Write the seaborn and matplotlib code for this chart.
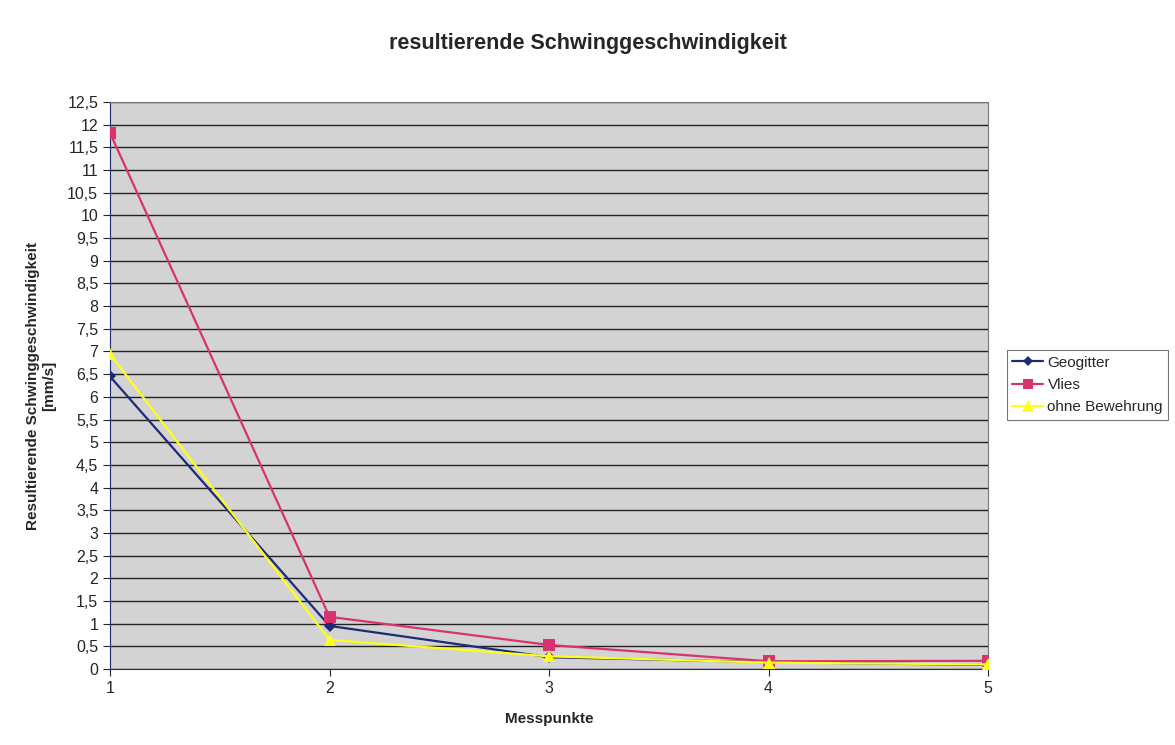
import numpy as np
import pandas as pd
import matplotlib
matplotlib.use("Agg")
import matplotlib.pyplot as plt
import seaborn as sns

messpunkte = [1, 2, 3, 4, 5]
geogitter = [6.45, 0.95, 0.26, 0.15, 0.09]
vlies = [11.82, 1.15, 0.53, 0.17, 0.18]
ohne_bewehrung = [6.94, 0.64, 0.28, 0.14, 0.10]
serien = ["Geogitter", "Vlies", "ohne Bewehrung"]

df = pd.DataFrame({
    "Messpunkte": messpunkte * 3,
    "wert": geogitter + vlies + ohne_bewehrung,
    "serie": np.repeat(serien, len(messpunkte)),
})

sns.set_style("white")
plt.rcParams['font.family'] = ['Liberation Sans', 'DejaVu Sans']

fig = plt.figure(figsize=(11.75, 7.45), dpi=100)
ax = fig.add_axes([110/1175, 1 - 669/745, 878/1175, 567/745])
ax.set_facecolor("#d3d3d3")

farben = {"Geogitter": "#1c2a78", "Vlies": "#d9336f", "ohne Bewehrung": "#ffff1a"}
marker = {"Geogitter": "D", "Vlies": "s", "ohne Bewehrung": "^"}
groessen = {"Geogitter": 6, "Vlies": 8, "ohne Bewehrung": 9}

for s in serien:
    sub = df[df["serie"] == s]
    sns.lineplot(data=sub, x="Messpunkte", y="wert", ax=ax, color=farben[s],
                 marker=marker[s], markersize=groessen[s], markeredgewidth=0,
                 linewidth=1.6, label=s, zorder=3, legend=False)

yt = np.arange(0, 12.51, 0.5)
ax.set_yticks(yt)
ax.set_yticklabels([("%g" % v).replace(".", ",") for v in yt], fontsize=11.5)
ax.set_xticks(messpunkte)
ax.set_xticklabels([str(m) for m in messpunkte], fontsize=11.5)
ax.set_xlim(1, 5)
ax.set_ylim(0, 12.5)
ax.yaxis.grid(True, color="#222222", linewidth=1)
ax.set_axisbelow(True)
ax.tick_params(axis="both", length=5, direction="out", left=True, bottom=True)
for sp in ["top", "right"]:
    ax.spines[sp].set_color("#777777")
for sp in ["left", "bottom"]:
    ax.spines[sp].set_color("#1c2a78")

ax.set_xlabel("Messpunkte", fontsize=11, fontweight="bold", labelpad=12)
ax.set_ylabel("Resultierende Schwinggeschwindigkeit\n[mm/s]", fontsize=11,
              fontweight="bold", labelpad=8)
fig.suptitle("resultierende Schwinggeschwindigkeit", fontsize=15.5,
             fontweight="bold", y=1 - 43/745, va="center")

handles = [plt.Line2D([], [], color=farben[s], marker=marker[s],
                      markersize=groessen[s] - 1, markeredgewidth=0, linewidth=1.6)
           for s in serien]
leg = fig.legend(handles, serien, loc="center left",
                 bbox_to_anchor=(1007/1175, 1 - 385/745), frameon=True,
                 fancybox=False, edgecolor="#555555", fontsize=11,
                 handlelength=2.0, handletextpad=0.3, borderpad=0.35,
                 labelspacing=0.55, borderaxespad=0)
leg.get_frame().set_linewidth(0.8)

fig.savefig("out.png", dpi=100)
